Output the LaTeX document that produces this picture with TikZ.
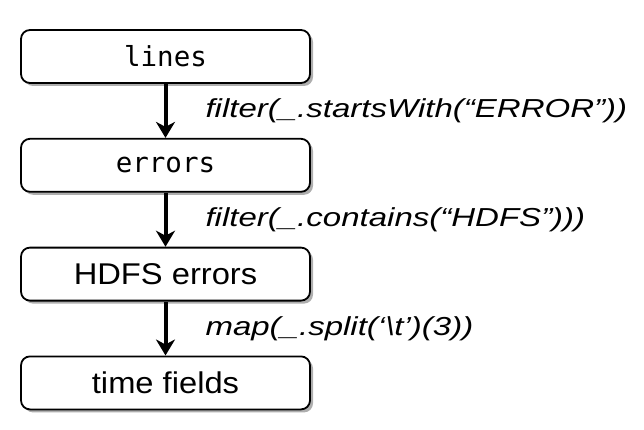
\documentclass[tikz,border=0pt]{standalone}
\usepackage{fontspec}
\setmainfont{Liberation Sans}
\setmonofont{DejaVu Sans Mono}
\usepackage{tikz}
\usetikzlibrary{arrows.meta,positioning,shadows}

\begin{document}
\begin{tikzpicture}[x=1pt, y=1pt, node distance=54pt,
  stage/.style={draw, line width=1.8pt, rounded corners=9pt, fill=white,
    minimum width=289pt, minimum height=53pt, inner sep=0pt,
    drop shadow={shadow xshift=3pt, shadow yshift=-3pt, opacity=0.45, fill=black!70}},
  xform/.style={right=38pt, font=\itshape\fontsize{26}{29}\selectfont, inner sep=0pt},
  flow/.style={-{Stealth[length=16pt, width=19pt, inset=5pt]}, line width=4pt}]
\useasboundingbox (0,0) rectangle (644,-430);
\node[stage, font=\ttfamily\fontsize{27.5}{30}\selectfont] (lines) at (165.5,-56.5) {lines};
\node[stage, font=\ttfamily\fontsize{27.5}{30}\selectfont, below=of lines] (errors) {errors};
\node[stage, font=\fontsize{30}{34}\selectfont, below=of errors] (hdfs) {\scalebox{1.09}[1]{HDFS errors}};
\node[stage, font=\fontsize{30}{34}\selectfont, below=of hdfs] (times) {\scalebox{1.09}[1]{time fields}};
\draw[flow] (lines) -- node[xform] (f1) {\scalebox{1.27}[1]{filter(\_.startsWith(“ERROR”))}} (errors);
\draw[flow] (errors) -- node[xform] (f2) {\scalebox{1.27}[1]{filter(\_.contains(“HDFS”)))}} (hdfs);
\draw[flow] (hdfs) -- node[xform] (f3) {\scalebox{1.27}[1]{map(\_.split(‘\textbackslash t’)(3))}} (times);
\end{tikzpicture}
\end{document}
